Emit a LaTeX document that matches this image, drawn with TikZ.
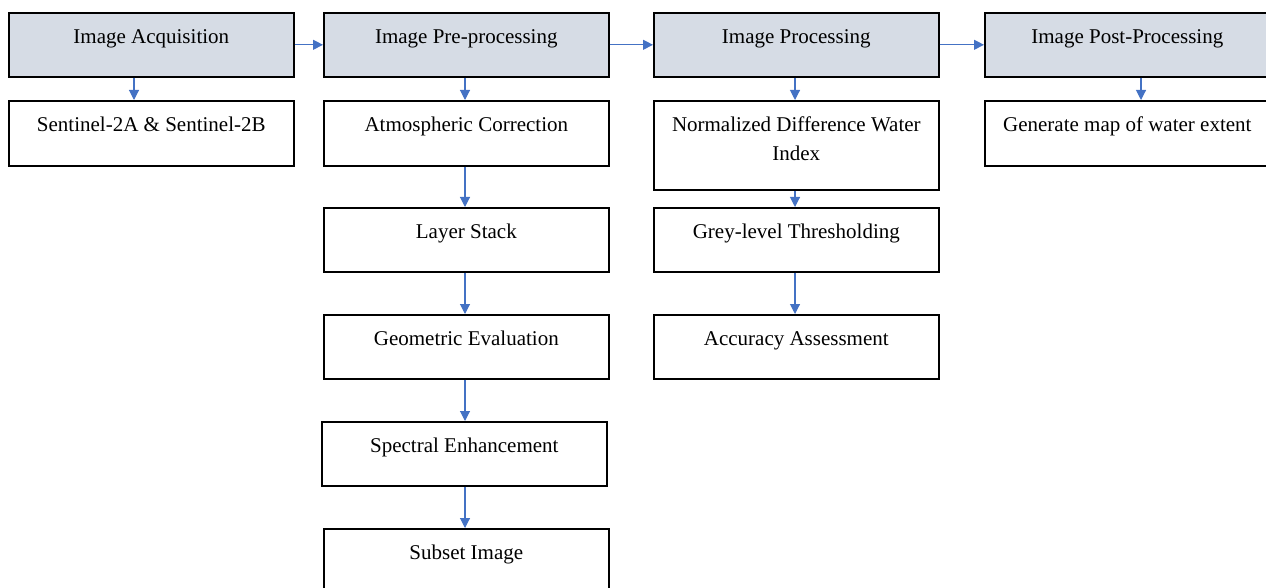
\documentclass[tikz,border=0pt]{standalone}
\usepackage{fontspec}
\setmainfont{Liberation Serif}
\usetikzlibrary{arrows.meta}
\definecolor{hdrcol}{HTML}{D6DCE5}
\definecolor{arrcol}{HTML}{4472C4}
\tikzset{
  box/.style={draw=black, line width=1.6pt, rectangle, anchor=north west,
    inner xsep=0pt, inner ysep=0pt, minimum width=285pt,
    font=\fontsize{21}{29}\selectfont, align=center},
  hdrbox/.style={box, fill=hdrcol, text height=31pt, text depth=33pt},
  subbox/.style={box, text height=31pt, text depth=34pt},
  conn/.style={draw=arrcol, line width=1.1pt, -{Triangle[length=10pt,width=10pt]}}
}
\begin{document}
\begin{tikzpicture}[x=1pt,y=-1pt]
\useasboundingbox (0,0) rectangle (1266,588);
\clip (0,0) rectangle (1266,588);
% headers
\node[hdrbox] (h1) at (8,12) {Image Acquisition};
\node[hdrbox] (h2) at (323,12) {Image Pre-processing};
\node[hdrbox] (h3) at (653,12) {Image Processing};
\node[hdrbox] (h4) at (984,12) {Image Post-Processing};
% column 1
\node[subbox] (s1) at (8,100) {Sentinel-2A \& Sentinel-2B};
% column 2
\node[subbox] (a1) at (323,100) {Atmospheric Correction};
\node[subbox, text depth=33pt] (a2) at (323,207) {Layer Stack};
\node[subbox, text depth=33pt] (a3) at (323,314) {Geometric Evaluation};
\node[subbox, text depth=33pt] (a4) at (321,421) {Spectral Enhancement};
\node[subbox] (a5) at (323,528) {Subset Image};
% column 3
\node[box, text height=60pt, text depth=29pt] (p1) at (653,100) {Normalized Difference Water\\Index};
\node[subbox, text depth=33pt] (p2) at (653,207) {Grey-level Thresholding};
\node[subbox, text depth=33pt] (p3) at (653,314) {Accuracy Assessment};
% column 4
\node[subbox] (q1) at (984,100) {Generate map of water extent};
% horizontal connectors
\draw[conn] (h1.east) -- (h2.west);
\draw[conn] (h2.east) -- (h3.west);
\draw[conn] (h3.east) -- (h4.west);
% vertical connectors
\draw[conn] (h1.south -| 134,0) -- (s1.north -| 134,0);
\draw[conn] (h2.south -| 465,0) -- (a1.north -| 465,0);
\draw[conn] (a1.south -| 465,0) -- (a2.north -| 465,0);
\draw[conn] (a2.south -| 465,0) -- (a3.north -| 465,0);
\draw[conn] (a3.south -| 465,0) -- (a4.north -| 465,0);
\draw[conn] (a4.south -| 465,0) -- (a5.north -| 465,0);
\draw[conn] (h3.south -| 795,0) -- (p1.north -| 795,0);
\draw[conn] (p1.south -| 795,0) -- (p2.north -| 795,0);
\draw[conn] (p2.south -| 795,0) -- (p3.north -| 795,0);
\draw[conn] (h4.south -| 1141,0) -- (q1.north -| 1141,0);
\end{tikzpicture}
\end{document}
